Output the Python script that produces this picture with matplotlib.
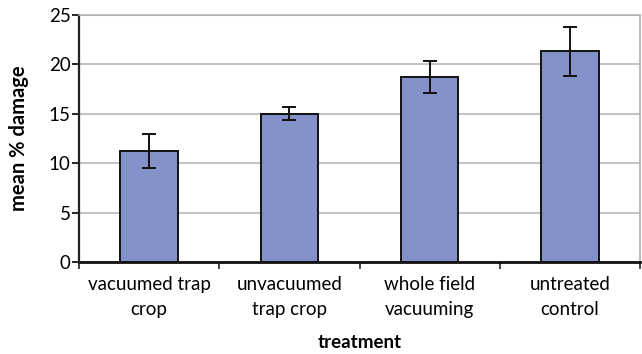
import numpy as np
import matplotlib.pyplot as plt
from matplotlib.ticker import FixedLocator

plt.rcParams['font.family'] = ['Lato', 'DejaVu Sans']

# données
treatments = ["vacuumed trap\ncrop", "unvacuumed\ntrap crop", "whole field\nvacuuming", "untreated\ncontrol"]
mean_damage = [11.2, 15.0, 18.7, 21.3]
err_damage = [1.7, 0.65, 1.6, 2.45]

fig = plt.figure(figsize=(6.42, 3.54), dpi=100)
ax = fig.add_axes([0.123, 0.26, 0.874, 0.698])

x = np.arange(len(treatments))
ax.bar(x, mean_damage, width=0.41, color='#8491C8', edgecolor='#111111', linewidth=1.4, zorder=3)
ax.errorbar(x, mean_damage, yerr=err_damage, fmt='none', ecolor='#111111',
            elinewidth=1.4, capsize=5, capthick=1.4, zorder=4)

ax.set_xlim(-0.5, 3.5)
ax.set_ylim(0, 25)
ax.set_yticks([0, 5, 10, 15, 20, 25])
ax.yaxis.grid(True, color='#c4c4c4', linewidth=1.5, zorder=0)

# ticks aux frontières des catégories, étiquettes au centre
ax.set_xticks(x)
ax.set_xticklabels(treatments, fontsize=13.5, linespacing=1.6)
ax.tick_params(axis='x', which='major', length=0, pad=10)
ax.xaxis.set_minor_locator(FixedLocator(np.arange(-0.5, 4.0, 1.0)))
ax.tick_params(axis='x', which='minor', length=5, width=1.2, color='#222222')
ax.tick_params(axis='y', labelsize=13.5, length=5, width=1.2, pad=1)

for side in ['top', 'right']:
    ax.spines[side].set_color('#b0b0b0')
    ax.spines[side].set_linewidth(1.2)
ax.spines['left'].set_linewidth(1.6)
ax.spines['bottom'].set_linewidth(2.0)
ax.spines['left'].set_color('#222222')
ax.spines['bottom'].set_color('#111111')

ax.set_xlabel("treatment", fontsize=13.5, fontweight='bold', labelpad=11)
ax.set_ylabel("mean % damage", fontsize=14.5, fontweight='bold', labelpad=14)

plt.savefig("out.png", dpi=100)
